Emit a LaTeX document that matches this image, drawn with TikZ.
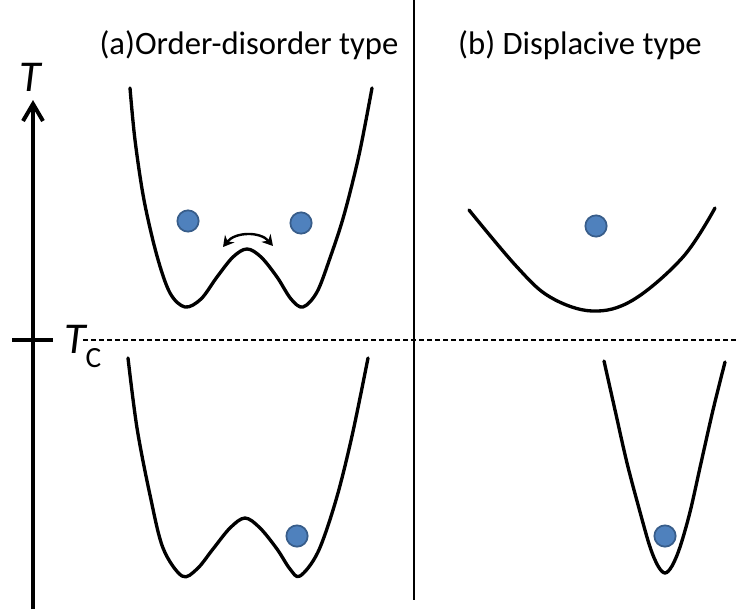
\documentclass[tikz,border=0pt]{standalone}
\usepackage{fontspec}
\setmainfont{Carlito}
\usepackage{tikz}
\usetikzlibrary{arrows.meta,positioning,calc}
\definecolor{ballblue}{RGB}{79,129,189}
\definecolor{balledge}{RGB}{56,93,138}
\tikzset{
    well/.style={line width=2.5pt, line join=round, line cap=round},
    ball/.style={circle, fill=ballblue, draw=balledge, line width=1.3pt,
                 minimum size=16pt, inner sep=0pt},
    ttl/.style={font=\fontsize{24.5}{28}\selectfont, anchor=base, inner sep=0pt},
    tlbl/.style={font=\fontsize{33}{36}\selectfont\itshape, anchor=base, inner sep=0pt},
    axisline/.style={line width=3pt},
    hop/.style={{Stealth[length=8pt,width=9pt]}-{Stealth[length=8pt,width=9pt]}, line width=1.8pt},
}

\begin{document}
\begin{tikzpicture}[x=0.75pt, y=-0.75pt]
    \useasboundingbox (0,0) rectangle (737,609);

    % temperature axis
    \coordinate (tbot) at (33,609);
    \coordinate (ttop) at (33,104);
    \coordinate (tickl) at (12,340);
    \coordinate (tickr) at (53,340);
    \draw[axisline] (tbot) -- (ttop);
    \draw[axisline, line join=miter] ($(ttop)+(-10,17)$) -- (ttop) -- ($(ttop)+(10,17)$);
    \draw[axisline] (tickl) -- (tickr);
    \node[tlbl] (tlab) at (30,92) {T};
    \node[tlbl, anchor=base west] (tc) at (64,353)
        {T\raisebox{-0.32em}{\upshape\fontsize{22}{24}\selectfont C}};

    % Tc line and divider
    \coordinate (dashl) at (83,340);
    \coordinate (dashr) at (737,340);
    \draw[line width=1pt, dash pattern=on 4pt off 2pt] (dashl) -- (dashr);
    \coordinate (divtop) at (414,0);
    \coordinate (divbot) at (414,600);
    \draw[line width=1.5pt] (divtop) -- (divbot);

    \node[ttl] (titlea) at (249,55) {(a)Order-disorder type};
    \node[ttl] (titleb) at (580,55) {(b) Displacive type};

    % (a) above Tc
    \draw[well] plot[smooth, tension=0.55] coordinates {
        (130,88) (135,140) (144,200) (157,256) (170,293) (185,307)
        (201,299) (217,277) (233,257) (247,249) (261,257) (277,277)
        (291,299) (303,307) (317,292) (330,258) (344,215) (359,155) (372,88)};
    \node[ball] (la) at (188,221) {};
    \node[ball] (ra) at (301,223) {};
    \coordinate (hopl) at (223,247);
    \coordinate (hopr) at (273,246);
    \draw[hop] (hopl) to[bend left=50] (hopr);

    % (a) below Tc
    \draw[well] plot[smooth, tension=0.55] coordinates {
        (128,358) (137,428) (150,495) (163,548) (182,576)
        (197,569) (213,549) (230,528) (245,518) (260,528) (277,549)
        (290,569) (300,576) (318,552) (336,500) (352,436) (368,358)};
    \node[ball] (lb) at (297,536) {};

    % (b) above Tc
    \draw[well] plot[smooth, tension=0.6] coordinates {
        (469,210) (517,267) (550,297) (592,311) (633,300) (683,257) (715,208)};
    \node[ball] (ua) at (596,226) {};

    % (b) below Tc
    \draw[well] plot[smooth, tension=0.55] coordinates {
        (604,361) (615,410) (627,463) (640,512) (650,547) (658,566) (665,573)
        (672,566) (680,547) (690,512) (701,463) (713,410) (725,362)};
    \node[ball] (ub) at (665,536) {};
\end{tikzpicture}
\end{document}
